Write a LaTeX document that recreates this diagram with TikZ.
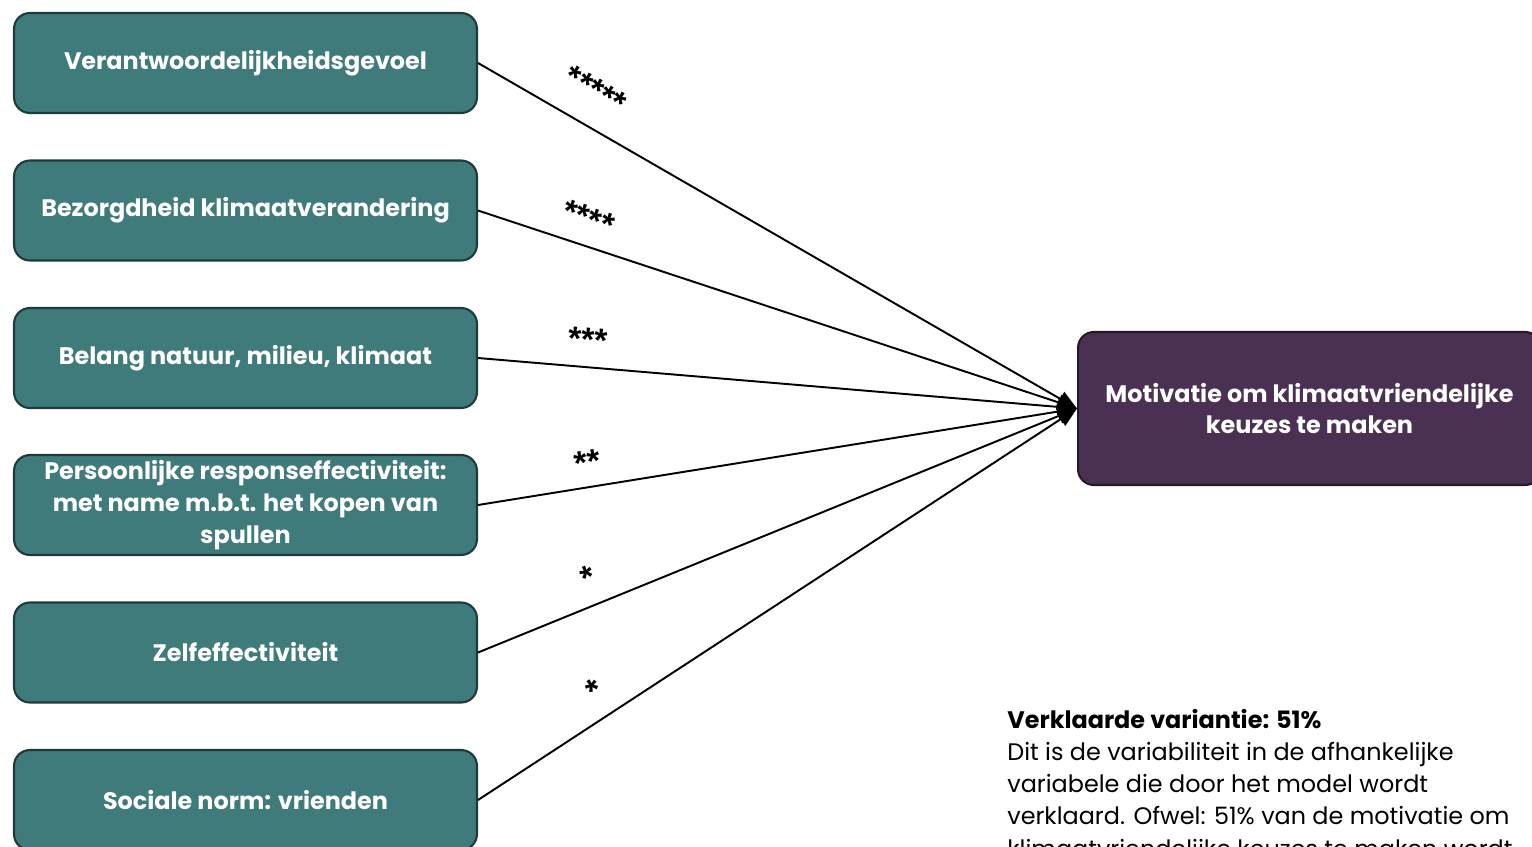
\documentclass[tikz,border=0pt]{standalone}
\usepackage{fontspec}
\setmainfont{Poppins}
\newfontfamily\starfont{Liberation Sans}
\usetikzlibrary{arrows.meta}

\definecolor{tealbox}{HTML}{3F7B7A}
\definecolor{tealedge}{HTML}{1E3B3B}
\definecolor{plumbox}{HTML}{4A3153}
\definecolor{plumedge}{HTML}{251827}

\begin{document}
\begin{tikzpicture}[x=0.02cm, y=-0.02cm,
    factor/.style={draw=tealedge, fill=tealbox, line width=1.2pt, rounded corners=9pt,
        minimum width=9.26cm, minimum height=2cm, inner sep=2pt, text=white, align=center,
        font=\fontsize{13.6}{18}\selectfont\bfseries},
    outcome/.style={factor, draw=plumedge, fill=plumbox, minimum height=3.06cm},
    effect/.style={line width=1.1pt, -{Triangle[length=11pt, width=9pt]}},
    stars/.style={font=\starfont\fontsize{19}{19}\selectfont\bfseries, inner sep=0pt}]
    \useasboundingbox (0,0) rectangle (1532,846);

    % predictors
    \node[factor] (verantw) at (245.5,63)  {Verantwoordelijkheidsgevoel};
    \node[factor] (bezorgd) at (245.5,210.5) {Bezorgdheid klimaatverandering};
    \node[factor] (belang)  at (245.5,358) {Belang natuur, milieu, klimaat};
    \node[factor] (respons) at (245.5,505) {Persoonlijke responseffectiviteit:\\ met name m.b.t. het kopen van\\ spullen};
    \node[factor] (zelfeff) at (245.5,652.5) {Zelfeffectiviteit};
    \node[factor] (norm)    at (245.5,800) {Sociale norm: vrienden};

    % outcome
    \node[outcome] (motiv) at (1309.5,408.5) {Motivatie om klimaatvriendelijke\\ keuzes te maken};

    % paths with significance
    \draw[effect] (verantw.east) -- (motiv.west) node[stars, pos=0.167, sloped, above=13pt] {*****};
    \draw[effect] (bezorgd.east) -- (motiv.west) node[stars, pos=0.17, sloped, above=8.5pt] {****};
    \draw[effect] (belang.east)  -- (motiv.west) node[stars, pos=0.18, sloped, above=8.5pt] {***};
    \draw[effect] (respons.east) -- (motiv.west) node[stars, pos=0.189, sloped, above=7pt] {**};
    \draw[effect] (zelfeff.east) -- (motiv.west) node[stars, pos=0.202, sloped, above=9pt] {*};
    \draw[effect] (norm.east)    -- (motiv.west) node[stars, pos=0.221, sloped, above=9pt] {*};

    % explained variance
    \node[anchor=north west, inner sep=0pt, align=left, font=\fontsize{13.6}{18.3}\selectfont]
        (varexp) at (1007,709) {\textbf{Verklaarde variantie: 51\%}\\
        Dit is de variabiliteit in de afhankelijke\\
        variabele die door het model wordt\\
        verklaard. Ofwel: 51\% van de motivatie om\\
        klimaatvriendelijke keuzes te maken wordt};
\end{tikzpicture}
\end{document}
